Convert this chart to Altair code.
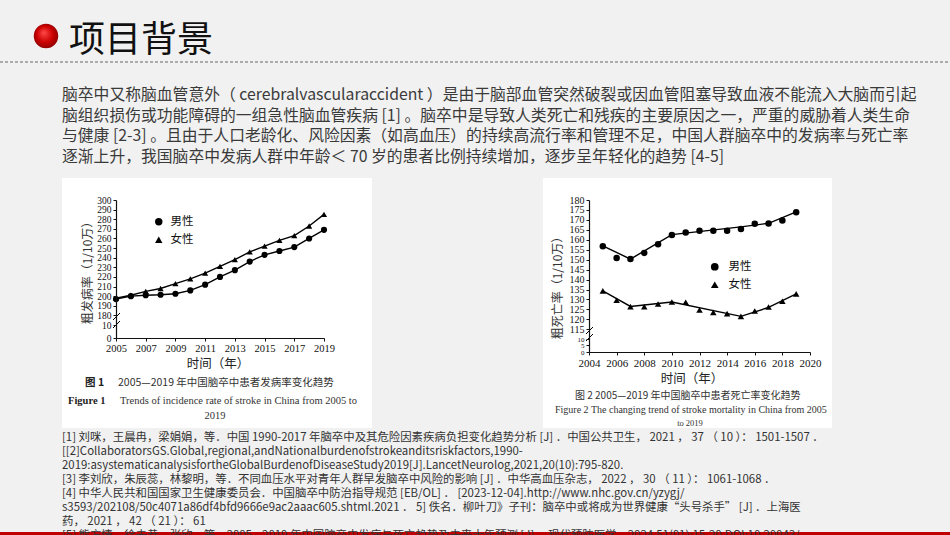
import altair as alt
import pandas as pd

# ---------------- data ----------------
years = list(range(2005, 2020))
inc_male = [197, 200, 201, 201.5, 202.5, 206, 212, 220, 227, 236, 243, 247, 251, 260, 269]
inc_female = [198, 201, 205, 208, 213, 218, 224, 231, 238, 246, 252, 258, 263, 273, 285]
mort_male = [156.8, 150.9, 150.3, 153.4, 157.8, 162.4, 163.7, 164.5, 164.5, 164.5, 165.4, 168.1, 168.2, 169.7, 173.8]
mort_female = [134.3, 129.6, 126.4, 126.4, 127.7, 128.7, 128.6, 124.7, 123.5, 122.9, 121.5, 124.2, 126.2, 129.1, 132.8]
trend_years = [2005, 2007, 2010, 2015, 2017, 2019]
trend_male = [157, 150.3, 162.6, 166.5, 168.3, 174]
trend_female = [134.3, 126.5, 128.7, 121.5, 126, 132.8]
sexes = ["男性", "女性"]

x1_ticks = list(range(2005, 2020, 2))
x2_ticks = list(range(2004, 2021, 2))
y1_ticks = [156.5, 169.6] + list(range(180, 301, 10))
y2_ticks = [103.6, 107, 110] + list(range(115, 181, 5))

title_text = "项目背景"
paragraph = [
    "脑卒中又称脑血管意外（ cerebralvascularaccident ）是由于脑部血管突然破裂或因血管阻塞导致血液不能流入大脑而引起",
    "脑组织损伤或功能障碍的一组急性脑血管疾病 [1] 。脑卒中是导致人类死亡和残疾的主要原因之一，严重的威胁着人类生命",
    "与健康 [2-3] 。且由于人口老龄化、风险因素（如高血压）的持续高流行率和管理不足，中国人群脑卒中的发病率与死亡率",
    "逐渐上升，我国脑卒中发病人群中年龄＜ 70 岁的患者比例持续增加，逐步呈年轻化的趋势 [4-5]",
]
references = [
    "[1] 刘咪，王晨冉，梁娟娟，等．中国 1990-2017 年脑卒中及其危险因素疾病负担变化趋势分析 [J] ．中国公共卫生， 2021 ， 37 （ 10 ）： 1501-1507 ．",
    "[[2]CollaboratorsGS.Global,regional,andNationalburdenofstrokeanditsriskfactors,1990-",
    "2019:asystematicanalysisfortheGlobalBurdenofDiseaseStudy2019[J].LancetNeurolog,2021,20(10):795-820.",
    "[3] 李刘欣，朱辰蕊，林黎明，等．不同血压水平对青年人群早发脑卒中风险的影响 [J] ．中华高血压杂志， 2022 ， 30 （ 11 ）： 1061-1068 ．",
    "[4] 中华人民共和国国家卫生健康委员会．中国脑卒中防治指导规范 [EB/OL] ． [2023-12-04].http://www.nhc.gov.cn/yzygj/",
    "s3593/202108/50c4071a86df4bfd9666e9ac2aaac605.shtml.2021 ． 5] 佚名．柳叶刀》子刊：脑卒中或将成为世界健康“头号杀手” [J] ．上海医",
    "药， 2021 ， 42 （ 21 ）： 61",
    "[5] 熊方情，徐去恭，张欣，等．2005—2019 年中国脑卒中发病与死亡趋势及未来十年预测 [J] ．现代预防医学，2024,51(01):15-20.DOI:10.20043/",
]

# ---------------- helpers ----------------
SERIF = "Liberation Serif, 'Noto Sans CJK SC'"
CJK = "'Noto Sans CJK SC', sans-serif"
W, H = 950, 535


def text(txt, x, y, size, font=CJK, color="#333333", align="left", weight="normal", angle=0):
    kw = dict(align=align, baseline="middle", fontSize=size, font=font, color=color, fontWeight=weight)
    if angle:
        kw["angle"] = angle
    return alt.Chart(pd.DataFrame({"t": [txt]})).mark_text(**kw).encode(
        text="t:N", x=alt.value(x), y=alt.value(y)
    )


def box(x, x2, y, y2, color):
    return alt.Chart(pd.DataFrame({"a": [0]})).mark_rect(color=color).encode(
        x=alt.value(x), x2=alt.value(x2), y=alt.value(y), y2=alt.value(y2)
    )


def seg(x, y, x2, y2, color="black", width=1.0, dash=None):
    kw = dict(color=color, strokeWidth=width)
    if dash:
        kw["strokeDash"] = dash
    return alt.Chart(pd.DataFrame({"a": [0]})).mark_rule(**kw).encode(
        x=alt.value(x), y=alt.value(y), x2=alt.value(x2), y2=alt.value(y2)
    )


def long(xs, a, b):
    rows = []
    for s, vals in zip(sexes, [a, b]):
        for xv, v in zip(xs, vals):
            rows.append({"year": xv, "value": v, "sex": s})
    return pd.DataFrame(rows)


axis_common = dict(
    grid=False, title=None, labelFont="Liberation Serif", labelColor="#111111",
    domainColor="#111111", tickColor="#111111", tickSize=3, labelPadding=2,
    labelFlush=False, labelOverlap=False, zindex=1, domainWidth=1.2,
)

shape_scale = alt.Scale(domain=sexes, range=["circle", "triangle-up"])

# ---------------- chart 1: incidence ----------------
X1_RANGE = [116, 324]
Y1_RANGE = [338, 200]
x1 = alt.X("year:Q", scale=alt.Scale(domain=[2005, 2019], range=X1_RANGE, nice=False, zero=False),
           axis=alt.Axis(orient="bottom", offset=338 - H, values=x1_ticks, format="d",
                         labelFontSize=10.5, **axis_common))
y1 = alt.Y("value:Q", scale=alt.Scale(domain=[156.5, 300], range=Y1_RANGE, nice=False, zero=False),
           axis=alt.Axis(orient="left", offset=-116, values=y1_ticks, labelFontSize=9.5,
                         labelExpr="datum.value < 165 ? '0' : datum.value < 175 ? '10' : datum.label",
                         **axis_common))
d1 = long(years, inc_male, inc_female)
base1 = alt.Chart(d1)
line1 = base1.mark_line(color="black", strokeWidth=1.4).encode(x=x1, y=y1, detail="sex:N")
pts1 = base1.mark_point(filled=True, color="black", size=38, opacity=1).encode(
    x=x1, y=y1,
    shape=alt.Shape("sex:N", scale=shape_scale,
                    legend=alt.Legend(orient="none", legendX=153, legendY=216, title=None,
                                      labelFont=CJK, labelFontSize=11.5, labelColor="#111111",
                                      symbolSize=55, symbolFillColor="black", symbolStrokeColor="black",
                                      rowPadding=4, padding=0, labelOffset=6)),
)
plot1 = alt.layer(line1, pts1)

# ---------------- chart 2: mortality ----------------
X2_RANGE = [589, 810]
Y2_RANGE = [352, 200]
x2 = alt.X("year:Q", scale=alt.Scale(domain=[2004, 2020], range=X2_RANGE, nice=False, zero=False),
           axis=alt.Axis(orient="bottom", offset=352 - H, values=x2_ticks, format="d",
                         labelFontSize=11, **axis_common))
y2 = alt.Y("value:Q", scale=alt.Scale(domain=[103.6, 180], range=Y2_RANGE, nice=False, zero=False),
           axis=alt.Axis(orient="left", offset=-589, values=y2_ticks,
                         labelFontSize={"condition": {"test": "datum.value < 112", "value": 7}, "value": 10},
                         labelExpr="datum.value < 105 ? '0' : datum.value < 108 ? '5' : datum.value < 112 ? '10' : datum.label",
                         **axis_common))
d2 = long(years, mort_male, mort_female)
t2 = long(trend_years, trend_male, trend_female)
line2 = alt.Chart(t2).mark_line(color="black", strokeWidth=1.4).encode(x=x2, y=y2, detail="sex:N")
pts2 = alt.Chart(d2).mark_point(filled=True, color="black", size=42, opacity=1).encode(
    x=x2, y=y2,
    shape=alt.Shape("sex:N", scale=shape_scale,
                    legend=alt.Legend(orient="none", legendX=709, legendY=261, title=None,
                                      labelFont=CJK, labelFontSize=11.5, labelColor="#111111",
                                      symbolSize=60, symbolFillColor="black", symbolStrokeColor="black",
                                      rowPadding=4, padding=0, labelOffset=8)),
)
plot2 = alt.layer(line2, pts2)

# ---------------- slide decorations & text ----------------
ball_fill = alt.RadialGradient(
    gradient="radial",
    stops=[alt.GradientStop(color="#ff4a4a", offset=0), alt.GradientStop(color="#cc0000", offset=0.55),
           alt.GradientStop(color="#7a0000", offset=1)],
    x1=0.4, y1=0.35, r1=0, x2=0.5, y2=0.5, r2=0.6,
)
ball = alt.Chart(pd.DataFrame({"a": [0]})).mark_point(filled=True, fill=ball_fill, size=600, opacity=1, shape="circle").encode(
    x=alt.value(46), y=alt.value(36)
)

layers = [
    box(62, 372, 178, 428, "white"),
    box(543, 832, 178, 428, "white"),
    box(0, W, 532, 535, "#c00000"),
    ball,
    text(title_text, 69, 41, 36, color="#111111"),
    seg(0, 62, W, 62, color="#666666", width=1, dash=[3, 2]),
]
for i, line in enumerate(paragraph):
    layers.append(text(line, 62, 95 + i * 20.7, 15.8, color="#3a3a3a"))
for i, line in enumerate(references):
    layers.append(text(line, 62, 437.5 + i * 14.1, 11.4, color="#333333"))

# chart 1 annotations
layers += [
    text("粗发病率（1/10万）", 88, 270, 12, color="#333333", align="center", angle=270),
    text("时间（年）", 218, 364, 12.5, color="#222222", align="center"),
    text("图 1", 85, 383, 10.5, color="#222222", weight="bold"),
    text("2005—2019 年中国脑卒中患者发病率变化趋势", 118, 383, 10.5, color="#333333"),
    text("Figure 1", 68, 401, 10.5, font=SERIF, color="#222222", weight="bold"),
    text("Trends of incidence rate of stroke in China from 2005 to", 120, 401, 10.5, font=SERIF, color="#333333"),
    text("2019", 215, 416, 10.5, font=SERIF, color="#333333", align="center"),
    seg(113, 320, 120, 313), seg(113, 328, 120, 321),
]
# chart 2 annotations
layers += [
    text("粗死亡率（1/10万）", 558, 285, 12, color="#333333", align="center", angle=270),
    text("时间（年）", 692, 379, 12.5, color="#222222", align="center"),
    text("图 2  2005—2019 年中国脑卒中患者死亡率变化趋势", 575, 396, 10, color="#333333"),
    text("Figure 2  The changing trend of stroke mortality in China from 2005", 555, 410, 10, font=SERIF, color="#333333"),
    text("to 2019", 690, 422.5, 8.5, font=SERIF, color="#333333", align="center"),
    seg(586, 334, 593, 327), seg(586, 341, 593, 334),
]
layers += [plot1, plot2]

chart = (
    alt.layer(*layers)
    .resolve_scale(x="independent", y="independent", shape="independent")
    .properties(width=W, height=H, autosize=alt.AutoSizeParams(type="none"), padding=0, background="#f1f1f1")
    .configure_view(stroke=None)
)

chart.save("out.html", embed_options={"renderer": "svg", "actions": False})
